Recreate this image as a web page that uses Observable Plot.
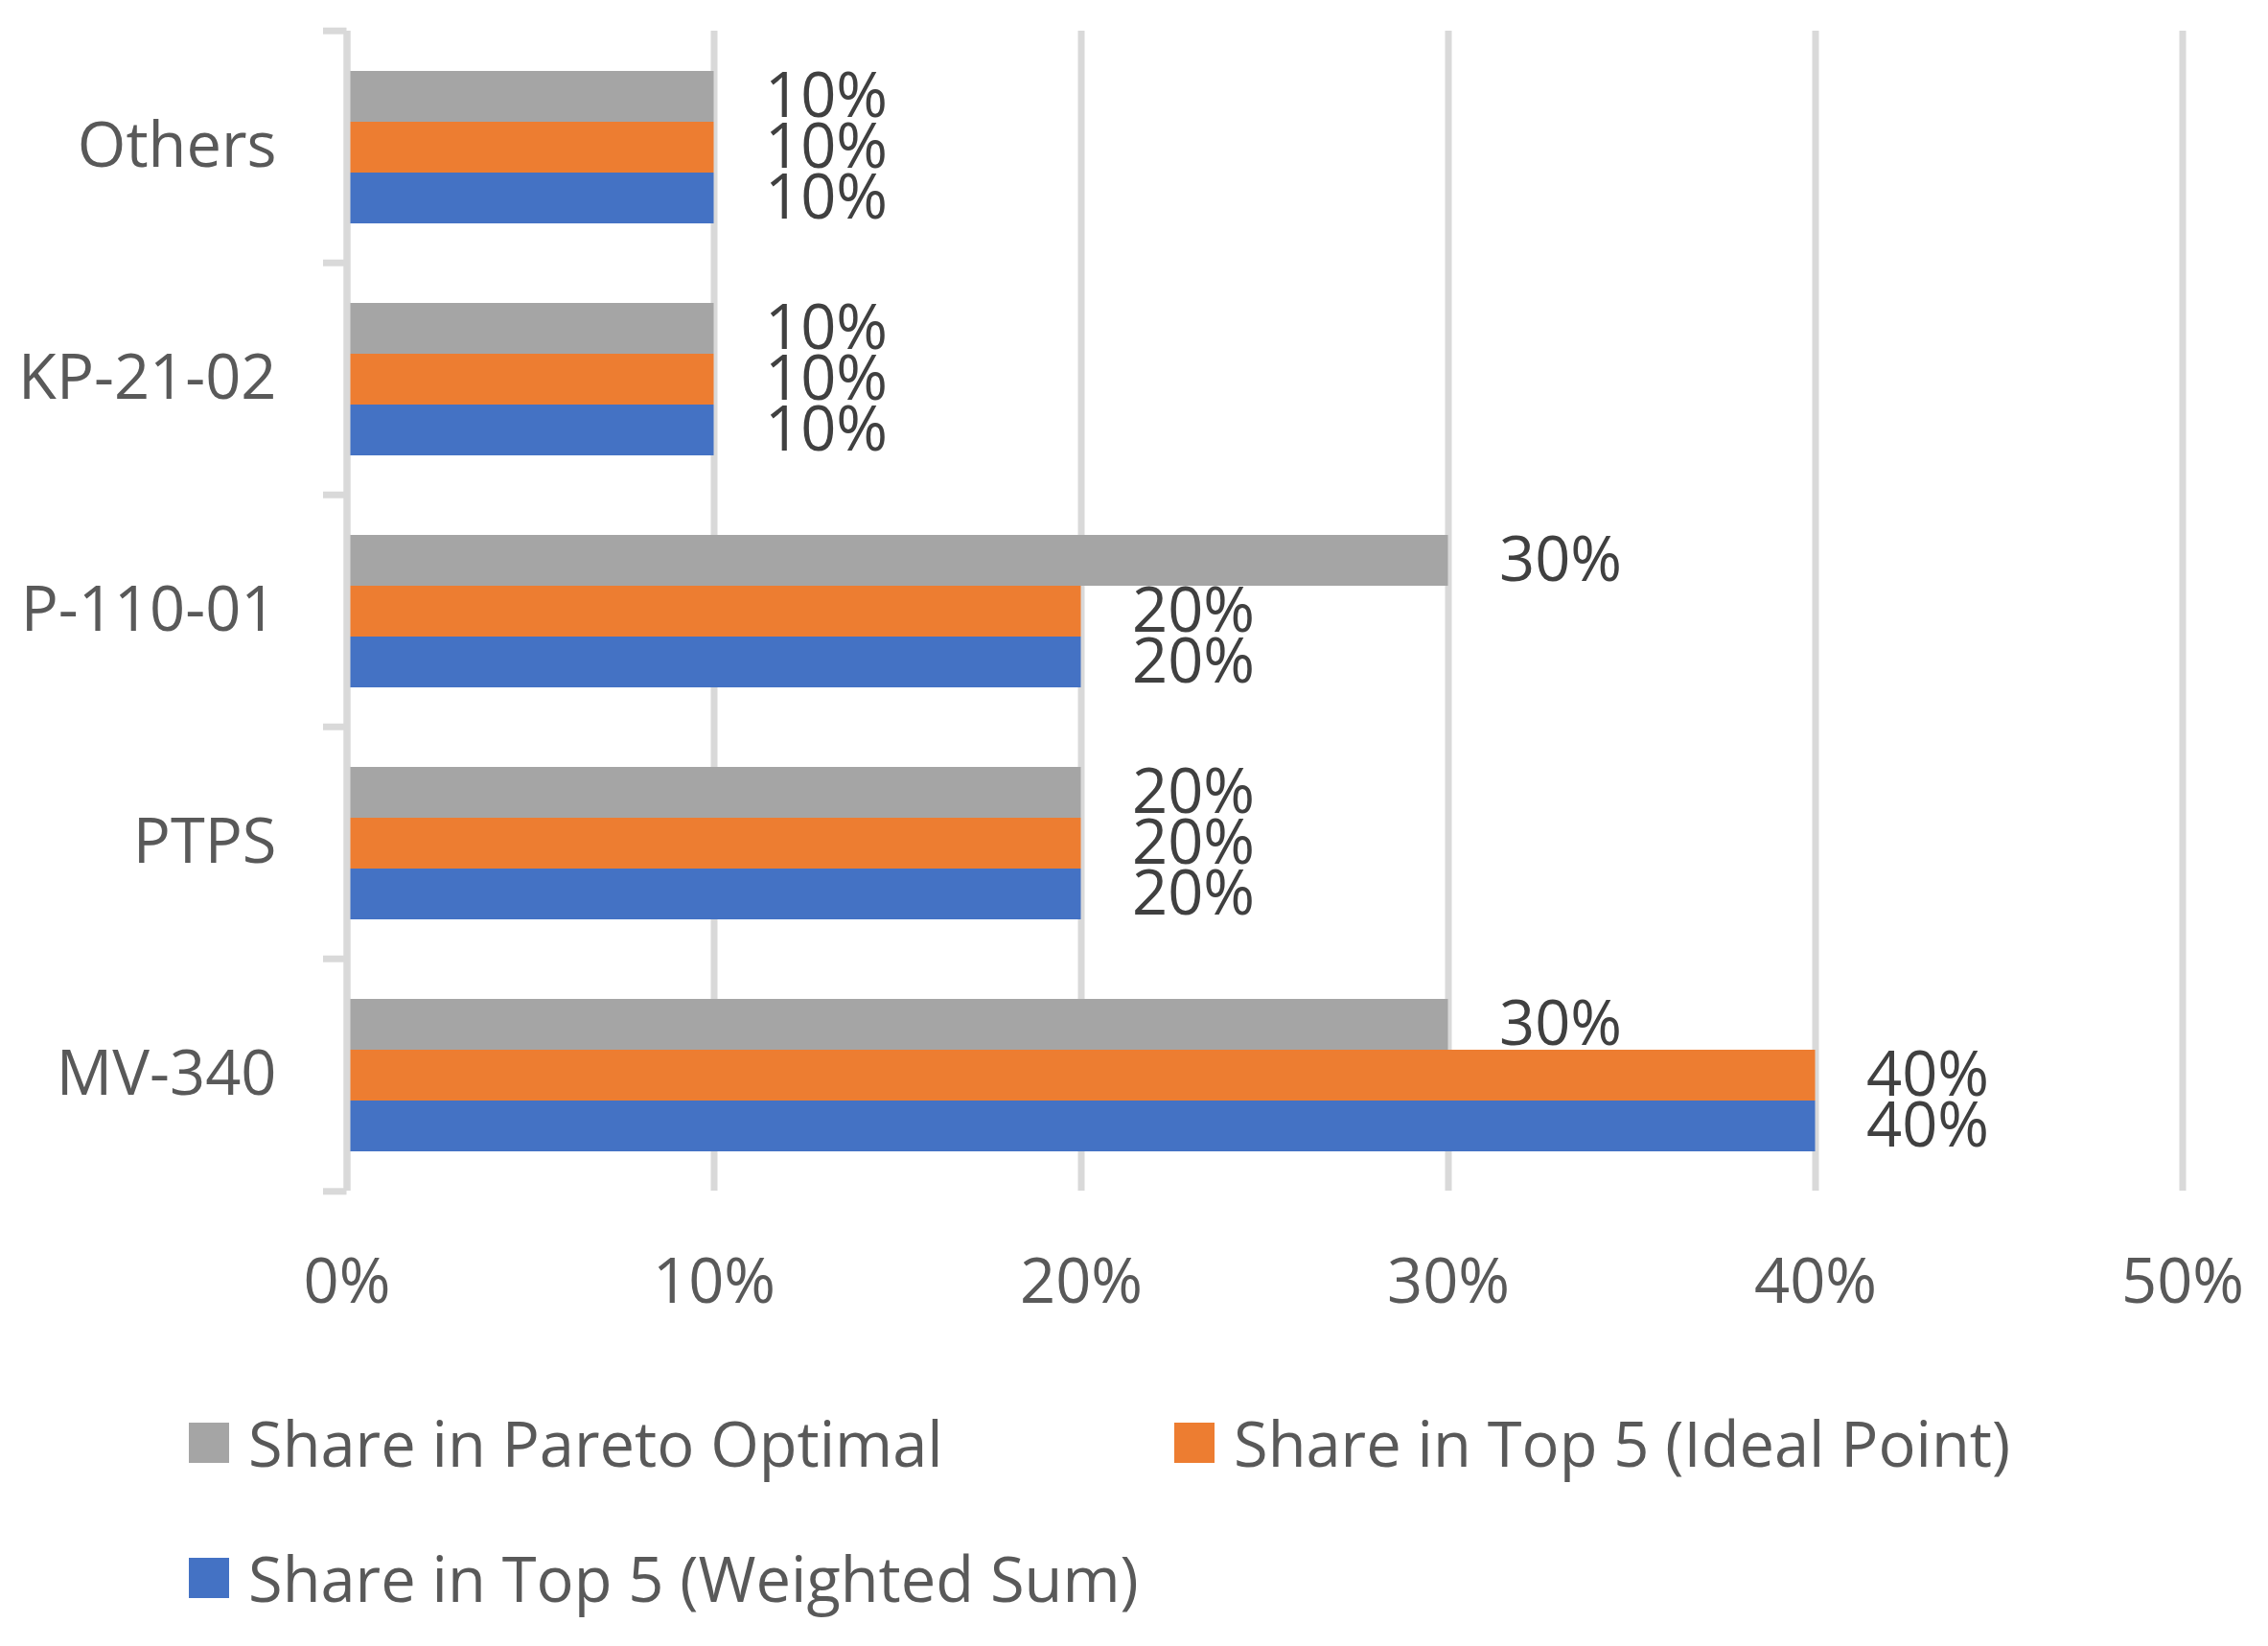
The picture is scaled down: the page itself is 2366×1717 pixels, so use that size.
<!DOCTYPE html>
<html><head><meta charset="utf-8">
<script src="https://cdn.jsdelivr.net/npm/d3@7"></script>
<script src="https://cdn.jsdelivr.net/npm/@observablehq/plot@0.6"></script>
<style>
html,body{margin:0;padding:0;background:#fff;}
#legend{font-family:"Open Sans";font-size:65px;color:#595959;padding-left:197px;margin-top:14px;}
.row{display:flex;height:141px;align-items:center;}
.item{display:flex;align-items:center;white-space:nowrap;}
.row .item:first-child{width:1028px;}
.sw{width:42px;height:42px;margin-right:20px;flex:none;}
</style></head><body>
<div id="chart"></div>
<div id="legend"></div>
<script>
const categories = ["Others", "KP-21-02", "P-110-01", "PTPS", "MV-340"];
const series = ["Share in Pareto Optimal", "Share in Top 5 (Ideal Point)", "Share in Top 5 (Weighted Sum)"];
const colors = ["#a5a5a5", "#ed7d31", "#4472c4"];
const paretoValues = [10, 10, 30, 20, 30];
const idealValues = [10, 10, 20, 20, 40];
const weightedValues = [10, 10, 20, 20, 40];
const xTicks = [0, 10, 20, 30, 40, 50];

const valuesBySeries = [paretoValues, idealValues, weightedValues];
const data = categories.flatMap((c, i) => series.map((s, j) => ({category: c, series: s, value: valuesBySeries[j][i]})));

const W = 2366, H = 1420, mt = 30, mb = 177, ml = 361.5, mr = 89.5;
const bh = (H - mt - mb) / categories.length;
const grid = "#d9d9d9";

const chart = Plot.plot({
  width: W, height: H,
  marginTop: mt, marginBottom: mb, marginLeft: ml, marginRight: mr,
  style: {fontFamily: "Open Sans", fontSize: "65px", color: "#595959", background: "#fff"},
  x: {domain: [0, 50], axis: null, label: null},
  fy: {domain: categories, padding: 0, axis: null, label: null},
  y: {domain: series, paddingInner: 0, paddingOuter: 0.746, axis: null, label: null},
  color: {domain: series, range: colors},
  marks: [
    Plot.gridX(xTicks, {stroke: grid, strokeWidth: 7, strokeOpacity: 1}),
    Plot.barX(data, {fy: "category", y: "series", x: "value", fill: "series"}),
    Plot.ruleX([0], {stroke: grid, strokeWidth: 7}),
    Plot.axisFy({anchor: "left", label: null, tickSize: 0, tickPadding: 73.5, fill: "#595959"}),
    Plot.axisFy({anchor: "left", label: null, text: null, tickSize: 24.5, dy: -bh / 2, stroke: grid, strokeWidth: 7}),
    Plot.axisFy({anchor: "left", label: null, ticks: [categories[categories.length - 1]], text: null, tickSize: 24.5, dy: bh / 2, stroke: grid, strokeWidth: 7}),
    Plot.axisX({label: null, ticks: xTicks, tickSize: 0, tickPadding: 70, tickFormat: d => d + "%", fill: "#595959"}),
    Plot.text(data, {fy: "category", y: "series", x: "value", text: d => d.value + "%", dx: 53, textAnchor: "start", fill: "#404040"})
  ]
});
document.getElementById("chart").appendChild(chart);

const legend = document.getElementById("legend");
const rows = [[0, 1], [2]];
for (const r of rows) {
  const row = document.createElement("div");
  row.className = "row";
  for (const j of r) {
    const item = document.createElement("div");
    item.className = "item";
    const sw = document.createElement("span");
    sw.className = "sw";
    sw.style.background = colors[j];
    const t = document.createElement("span");
    t.textContent = series[j];
    item.appendChild(sw);
    item.appendChild(t);
    row.appendChild(item);
  }
  legend.appendChild(row);
}
</script>
</body></html>
